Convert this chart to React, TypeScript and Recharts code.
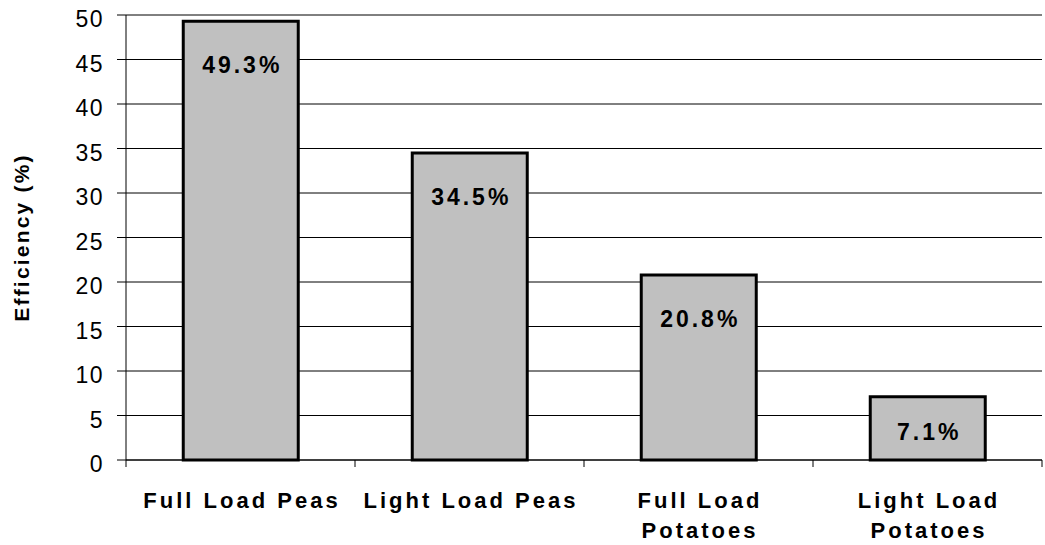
import { BarChart, Bar, XAxis, YAxis, CartesianGrid, LabelList, Label } from 'recharts'

const categories = ['Full Load Peas', 'Light Load Peas', 'Full Load\nPotatoes', 'Light Load\nPotatoes']
const efficiency = [49.3, 34.5, 20.8, 7.1]
const yTicks = [0, 5, 10, 15, 20, 25, 30, 35, 40, 45, 50]

const data = categories.map((name, i) => ({ name, value: efficiency[i] }))

const FONT = 'Arial, "Liberation Sans", Helvetica, sans-serif'

// category label plus the short tick marks that sit on the band edges
function CategoryTick(props: any) {
  const { x, y, payload, index, visibleTicksCount } = props
  const half = payload.offset ?? 0
  const lines = String(payload.value).split('\n')
  const isLast = index === visibleTicksCount - 1
  return (
    <g>
      <line x1={x - half} x2={x - half} y1={y} y2={y + 7} stroke="#000" />
      {isLast && <line x1={x + half} x2={x + half} y1={y} y2={y + 7} stroke="#000" />}
      <text x={x} y={y} textAnchor="middle" fontFamily={FONT} fontSize={22} fontWeight="bold" letterSpacing={3} fill="#000">
        {lines.map((l, i) => (
          <tspan key={i} x={x + 1.5} dy={i === 0 ? 48 : 30}>{l}</tspan>
        ))}
      </text>
    </g>
  )
}

function ValueTick(props: any) {
  const { x, y, payload } = props
  return (
    <text x={x + 2} y={y + 4} textAnchor="end" dominantBaseline="central" fontFamily={FONT} fontSize={23} letterSpacing={1.5} fill="#000">
      {payload.value}
    </text>
  )
}

function BarValue(props: any) {
  const { x, y, width, height, value } = props
  const cy = y + Math.min(44, height * 0.55)
  return (
    <text x={x + width / 2 + 1.5} y={cy} textAnchor="middle" dominantBaseline="central" fontFamily={FONT} fontSize={23} fontWeight="bold" letterSpacing={3} fill="#000">
      {`${value.toFixed(1)}%`}
    </text>
  )
}

export default function App() {
  return (
    <div style={{ position: 'absolute', left: 0, top: 0, background: '#fff' }}>
      <BarChart width={1045} height={545} data={data} margin={{ top: 15, right: 3, left: 0, bottom: 0 }} barCategoryGap="25%">
        <CartesianGrid vertical={false} stroke="#000" strokeWidth={1} />
        <XAxis dataKey="name" tick={<CategoryTick />} tickLine={false} tickSize={0} tickMargin={0} axisLine={{ stroke: '#000' }} height={85} interval={0} />
        <YAxis
          domain={[0, 50]}
          ticks={yTicks}
          width={126}
          tickSize={9}
          tickMargin={15}
          axisLine={{ stroke: '#000' }}
          tickLine={{ stroke: '#000' }}
          tick={<ValueTick />}
        >
          <Label
            content={(p: any) => {
              const vb = p.viewBox
              const cy = vb.y + vb.height / 2
              return (
                <text x={21} y={cy} transform={`rotate(-90 21 ${cy})`} textAnchor="middle" dominantBaseline="central" fontFamily={FONT} fontSize={21} fontWeight="bold" letterSpacing={2.2} fill="#000">
                  Efficiency (%)
                </text>
              )
            }}
          />
        </YAxis>
        <Bar dataKey="value" fill="#C0C0C0" stroke="#000" strokeWidth={3} isAnimationActive={false}>
          <LabelList dataKey="value" content={<BarValue />} />
        </Bar>
      </BarChart>
    </div>
  )
}
